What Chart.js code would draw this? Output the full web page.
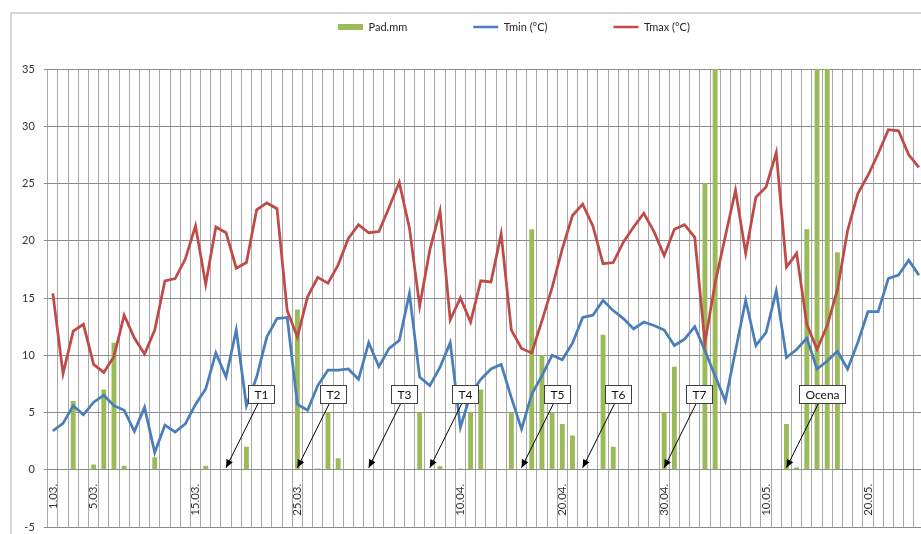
<!DOCTYPE html>
<html><head><meta charset="utf-8">
<script src="https://cdn.jsdelivr.net/npm/chart.js@4.4.1/dist/chart.umd.min.js"></script>
<style>
html,body{margin:0;padding:0;background:#fff;overflow:hidden;width:921px;height:534px;}
#frame{position:absolute;left:10px;top:12px;width:1000px;height:600px;border-left:2px solid #d6d6d6;border-top:2px solid #d6d6d6;}
#wrap{position:absolute;left:0;top:0;width:926px;height:534px;}
</style></head><body>
<div id="frame"></div>
<div id="wrap"><canvas id="c" width="926" height="534"></canvas></div>
<script>
const dates = [
 '1.03.','2.03.','3.03.','4.03.','5.03.','6.03.','7.03.','8.03.','9.03.','10.03.',
 '11.03.','12.03.','13.03.','14.03.','15.03.','16.03.','17.03.','18.03.','19.03.','20.03.',
 '21.03.','22.03.','23.03.','24.03.','25.03.','26.03.','27.03.','28.03.','29.03.','30.03.','31.03.',
 '1.04.','2.04.','3.04.','4.04.','5.04.','6.04.','7.04.','8.04.','9.04.','10.04.',
 '11.04.','12.04.','13.04.','14.04.','15.04.','16.04.','17.04.','18.04.','19.04.','20.04.',
 '21.04.','22.04.','23.04.','24.04.','25.04.','26.04.','27.04.','28.04.','29.04.','30.04.',
 '1.05.','2.05.','3.05.','4.05.','5.05.','6.05.','7.05.','8.05.','9.05.','10.05.',
 '11.05.','12.05.','13.05.','14.05.','15.05.','16.05.','17.05.','18.05.','19.05.','20.05.',
 '21.05.','22.05.','23.05.','24.05.','25.05.'
];
const shownDates = ['1.03.','5.03.','15.03.','25.03.','10.04.','20.04.','30.04.','10.05.','20.05.'];

const padMm = [
 0,0,6.0,0,0.45,7.0,11.1,0.35,0,0,
 1.1,0,0,0,0,0.35,0,0,0,2.0,
 0,0,0,0,14.0,0,0.1,5.0,1.0,0,0,
 0,0,0,0,0,5.0,0,0.3,0,0.1,
 5.0,7.0,0,0.05,5.0,0,21.0,10.0,5.0,4.0,
 3.0,0,0,11.8,2.0,0,0,0,0,5.0,
 9.0,0,0,25.0,38.0,0,0,0,0,0,
 0,4.0,0.2,21.0,38.0,38.0,19.0,0,0,0,
 0,0,0,0,0
];
const tMin = [
 3.4,4.05,5.6,4.8,5.9,6.5,5.6,5.2,3.35,5.45,
 1.5,3.9,3.3,4.0,5.7,7.05,10.2,8.1,12.2,5.6,
 8.1,11.6,13.2,13.3,5.7,5.2,7.35,8.7,8.7,8.8,7.9,
 11.1,9.0,10.6,11.3,15.4,8.1,7.35,8.95,11.1,3.7,
 6.6,7.9,8.8,9.2,6.3,3.55,6.6,8.2,10.0,9.6,
 11.05,13.3,13.5,14.8,13.9,13.2,12.3,12.9,12.6,12.2,
 10.85,11.4,12.5,10.4,8.2,6.0,10.4,14.8,10.85,12.0,
 15.6,9.8,10.5,11.5,8.8,9.5,10.35,8.8,11.1,13.8,
 13.8,16.7,17.0,18.3,17.0
];
const tMax = [
 15.4,8.4,12.1,12.7,9.2,8.5,9.9,13.5,11.5,10.1,
 12.2,16.5,16.7,18.4,21.3,16.2,21.2,20.7,17.6,18.1,
 22.7,23.3,22.8,13.9,11.6,15.1,16.8,16.3,17.9,20.2,21.4,
 20.7,20.8,22.9,25.1,21.1,14.3,19.2,22.6,13.1,15.0,
 12.9,16.5,16.4,20.6,12.2,10.6,10.2,13.0,15.9,19.3,
 22.2,23.2,21.3,18.0,18.1,19.9,21.2,22.4,20.8,18.7,
 21.0,21.4,20.3,11.1,16.3,20.4,24.4,18.9,23.8,24.7,
 27.7,17.7,18.9,12.7,10.5,12.6,15.7,20.9,24.1,25.7,
 27.6,29.7,29.6,27.5,26.4
];
const noteTexts = ['T1','T2','T3','T4','T5','T6','T7','Ocena'];
const noteDates = ['18.03.','25.03.','1.04.','7.04.','16.04.','22.04.','30.04.','12.05.'];

const FONT = 'Lato, "Liberation Sans", sans-serif';

const legendShift = {
  id: 'legendShift',
  afterLayout(chart) {
    const lg = chart.legend;
    if (!lg || !lg.lineWidths) return;
    const p = lg.options.labels.padding;
    const start = ((lg.left + p) + (lg.right - lg.lineWidths[0])) / 2;
    const d = 338 - start;
    lg.left += d; lg.right += d;
    lg.top = 27 - 5.5 - p;
    lg.bottom = 45;
  }
};

const notesPlugin = {
  id: 'notes',
  afterDatasetsDraw(chart) {
    const {ctx, scales: {x, y}} = chart;
    ctx.save();
    ctx.font = '12px ' + FONT;
    ctx.textAlign = 'center';
    ctx.textBaseline = 'middle';
    noteTexts.forEach((t, k) => {
      const idx = dates.indexOf(noteDates[k]);
      const tx = x.getPixelForValue(idx);
      const ty = y.getPixelForValue(0) - 2;
      const cx = x.getPixelForValue(idx + 3.45);
      const cy = y.getPixelForValue(6.6);
      const w = Math.round(ctx.measureText(t).width + 12);
      const h = 18;
      const sx = cx - 3, sy = cy + h / 2;
      ctx.strokeStyle = '#000'; ctx.lineWidth = 1;
      ctx.beginPath(); ctx.moveTo(sx, sy); ctx.lineTo(tx, ty); ctx.stroke();
      const a = Math.atan2(ty - sy, tx - sx), L = 8, W = 3.5;
      ctx.beginPath();
      ctx.moveTo(tx, ty);
      ctx.lineTo(tx - L * Math.cos(a) + W * Math.sin(a), ty - L * Math.sin(a) - W * Math.cos(a));
      ctx.lineTo(tx - L * Math.cos(a) - W * Math.sin(a), ty - L * Math.sin(a) + W * Math.cos(a));
      ctx.closePath(); ctx.fillStyle = '#000'; ctx.fill();
      const bx = Math.round(cx - w / 2) + 0.5, by = Math.round(cy - h / 2) + 0.5;
      ctx.fillStyle = '#fff'; ctx.fillRect(bx, by, w, h);
      ctx.strokeStyle = '#404040'; ctx.strokeRect(bx, by, w, h);
      ctx.fillStyle = '#111'; ctx.fillText(t, bx + w / 2, by + h / 2 + 0.5);
    });
    ctx.restore();
  }
};

new Chart(document.getElementById('c'), {
  data: {
    labels: dates,
    datasets: [
      {type: 'bar', label: 'Pad.mm', data: padMm, backgroundColor: '#9BBB59', barPercentage: 0.48, categoryPercentage: 1, order: 3},
      {type: 'line', label: 'Tmin (°C)', data: tMin, borderColor: '#4A7EBB', borderWidth: 2.75, pointRadius: 0, tension: 0, order: 2},
      {type: 'line', label: 'Tmax (°C)', data: tMax, borderColor: '#BE4B48', borderWidth: 2.75, pointRadius: 0, tension: 0, order: 1}
    ]
  },
  options: {
    responsive: false,
    animation: false,
    layout: {padding: {left: 13, right: 2, top: 29, bottom: 7}},
    plugins: {
      tooltip: {enabled: false},
      legend: {
        maxHeight: 40,
        labels: {
          usePointStyle: true, pointStyleWidth: 25, boxHeight: 6, padding: 66,
          color: '#262626', font: {family: FONT, size: 11},
          generateLabels(chart) {
            return chart.data.datasets.map((ds, i) => {
              const isBar = ds.type === 'bar';
              const c = isBar ? ds.backgroundColor : ds.borderColor;
              return {text: ds.label, datasetIndex: i, pointStyle: isBar ? 'rect' : 'line',
                fillStyle: c, strokeStyle: c, lineWidth: isBar ? 0 : 2.5, hidden: false, fontColor: '#262626'};
            });
          }
        }
      }
    },
    scales: {
      x: {
        type: 'category', position: {y: 0}, offset: true,
        grid: {offset: true, color: '#a8a8a8', lineWidth: 1, drawTicks: false},
        border: {color: '#8c8c8c'},
        afterFit(s) { s.paddingLeft = 0; s.paddingRight = 0; s.paddingTop = 0; s.paddingBottom = 0; },
        ticks: {
          autoSkip: false, maxRotation: 90, minRotation: 90, padding: 14,
          color: '#333', font: {family: FONT, size: 11.5},
          callback(v) { const l = this.getLabelForValue(v); return shownDates.includes(l) ? l : ''; }
        }
      },
      y: {
        min: -5, max: 35,
        afterFit(s) { s.paddingBottom = 0; },
        ticks: {stepSize: 5, padding: 9, color: '#333', font: {family: FONT, size: 11}},
        grid: {color: '#8c8c8c', tickLength: 4},
        border: {display: false}
      }
    }
  },
  plugins: [legendShift, notesPlugin]
});
</script>
</body></html>
